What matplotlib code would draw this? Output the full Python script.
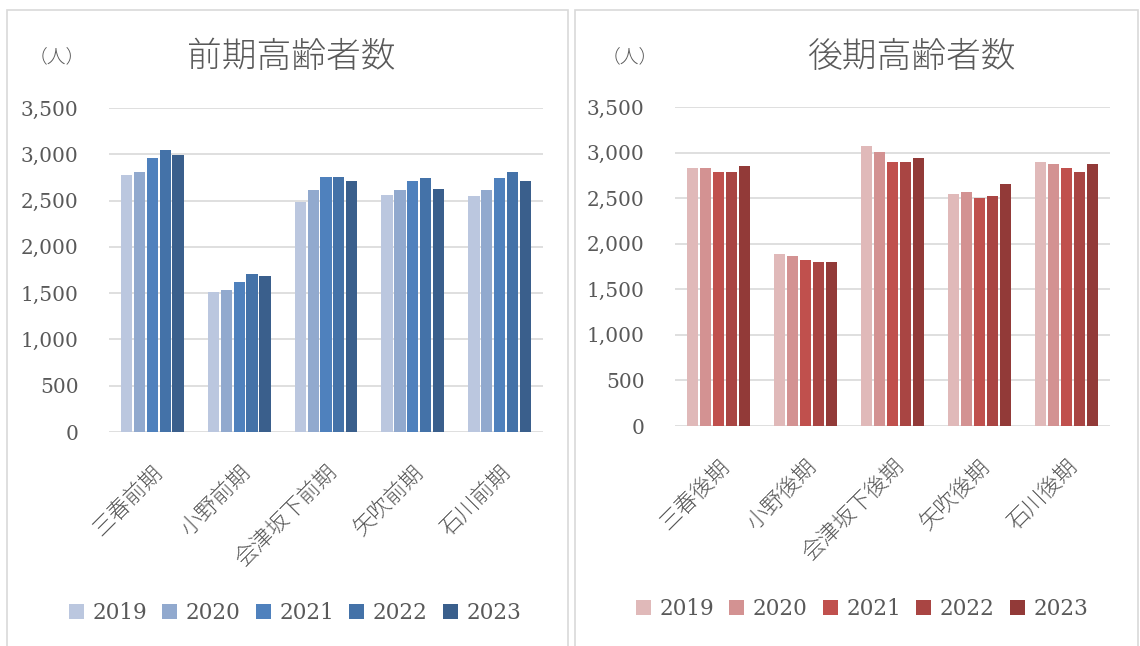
import matplotlib
matplotlib.use("Agg")
import matplotlib.pyplot as plt
from matplotlib.patches import Rectangle, Patch
import numpy as np

# データ
years = ["2019", "2020", "2021", "2022", "2023"]

zenki_areas = ["三春前期", "小野前期", "会津坂下前期", "矢吹前期", "石川前期"]
zenki = {
    "2019": [2780, 1515, 2480, 2565, 2545],
    "2020": [2805, 1535, 2610, 2610, 2610],
    "2021": [2955, 1620, 2760, 2715, 2740],
    "2022": [3050, 1705, 2760, 2740, 2805],
    "2023": [2995, 1685, 2715, 2630, 2715],
}

kouki_areas = ["三春後期", "小野後期", "会津坂下後期", "矢吹後期", "石川後期"]
kouki = {
    "2019": [2830, 1890, 3070, 2545, 2895],
    "2020": [2830, 1865, 3005, 2565, 2875],
    "2021": [2785, 1820, 2895, 2500, 2830],
    "2022": [2785, 1800, 2895, 2520, 2785],
    "2023": [2850, 1800, 2940, 2655, 2875],
}

blues = ["#BBC7DF", "#91A9CE", "#4F81BD", "#4472A8", "#3A5F8C"]
reds = ["#E0B9B9", "#D39292", "#C0504D", "#A94543", "#923A38"]

JP = ["Noto Sans CJK JP", "DejaVu Sans"]
NUM = ["DejaVu Serif", "Noto Sans CJK JP"]
GRAY = "#595959"

fig = plt.figure(figsize=(11.4, 6.46), dpi=100)
W, H = 1140, 646

# パネルの枠
for x0, x1 in [(7, 568), (575, 1138)]:
    fig.patches.append(Rectangle((x0 / W, -0.05), (x1 - x0) / W, 1.05 - 10 / H,
                                 transform=fig.transFigure, fill=False,
                                 edgecolor="#D9D9D9", linewidth=1.2))


def draw(rect, areas, data, colors, title, title_x, unit_x, leg_x, leg_y):
    ax = fig.add_axes(rect)
    x = np.arange(len(areas))
    slot = 0.148
    for i, y in enumerate(years):
        ax.bar(x + (i - 2) * slot, data[y], width=0.13, color=colors[i], zorder=3)
    ax.set_xlim(-0.5, len(areas) - 0.5)
    ax.set_ylim(0, 3500)
    ax.set_yticks(range(0, 3501, 500))
    ax.set_yticklabels([f"{v:,}" for v in range(0, 3501, 500)],
                       family=NUM, fontsize=14.5, color=GRAY)
    ax.grid(axis="y", color="#D9D9D9", linewidth=1.2, zorder=0)
    ax.set_axisbelow(True)
    for s in ax.spines.values():
        s.set_visible(False)
    ax.tick_params(axis="y", length=0, pad=22)
    ax.tick_params(axis="x", length=0, pad=21)
    ax.set_xticks(x)
    ax.set_xticklabels(areas, rotation=45, ha="right", rotation_mode="anchor",
                       family=JP, fontsize=16, color=GRAY, weight="light")
    fig.text(title_x / W, 1 - 57 / H, title, family=JP, fontsize=25,
             color=GRAY, ha="center", va="center", weight="light")
    fig.text(unit_x / W, 1 - 57 / H, "（人）", family=JP, fontsize=13.5,
             color=GRAY, ha="center", va="center", weight="light")
    handles = [Patch(facecolor=c, edgecolor="none") for c in colors]
    fig.legend(handles, years, loc="center", bbox_to_anchor=(leg_x / W, 1 - leg_y / H),
               ncol=5, frameon=False, prop={"family": NUM, "size": 15.5},
               handlelength=0.7, handleheight=0.7, handletextpad=0.4,
               columnspacing=0.7, labelcolor=GRAY)
    return ax


draw([109 / W, 1 - 432 / H, 434 / W, 324 / H], zenki_areas, zenki, blues,
     "前期高齢者数", 291, 57, 295, 613)
draw([675 / W, 1 - 426 / H, 435 / W, 319 / H], kouki_areas, kouki, reds,
     "後期高齢者数", 911, 630, 862, 609)

fig.savefig("out.png", dpi=100)
